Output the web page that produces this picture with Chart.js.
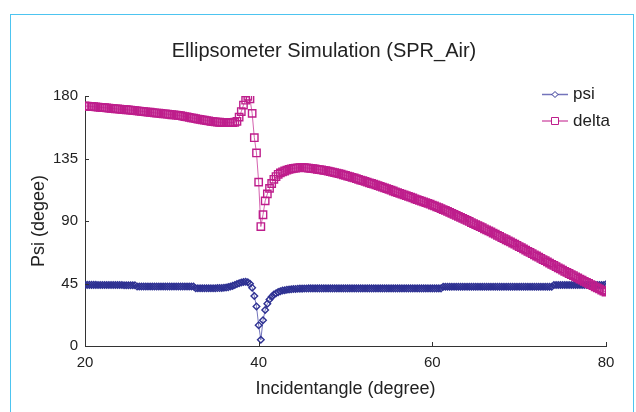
<!DOCTYPE html>
<html>
<head>
<meta charset="utf-8">
<script src="https://cdn.jsdelivr.net/npm/chart.js@4/dist/chart.umd.min.js"></script>
<style>
  html, body { margin: 0; padding: 0; background: #fff; }
  #wrap { position: relative; width: 636px; height: 412px; overflow: hidden; }
  #frame { position: absolute; left: 10px; top: 14px; width: 622px; height: 420px;
           border: 1.5px solid #4dc4f0; border-bottom: none; }
  #canvas { position: absolute; left: 0; top: 0; }
</style>
</head>
<body>
<div id="wrap">
  <div id="frame"></div>
  <canvas id="canvas" width="636" height="412"></canvas>
</div>
<script>
// incident angle, one row per degree
var angle = [
	20, 20.25, 20.5, 20.75, 21, 21.25, 21.5, 21.75, 22, 22.25, 22.5, 22.75,
	23, 23.25, 23.5, 23.75, 24, 24.25, 24.5, 24.75, 25, 25.25, 25.5, 25.75,
	26, 26.25, 26.5, 26.75, 27, 27.25, 27.5, 27.75, 28, 28.25, 28.5, 28.75,
	29, 29.25, 29.5, 29.75, 30, 30.25, 30.5, 30.75, 31, 31.25, 31.5, 31.75,
	32, 32.25, 32.5, 32.75, 33, 33.25, 33.5, 33.75, 34, 34.25, 34.5, 34.75,
	35, 35.25, 35.5, 35.75, 36, 36.25, 36.5, 36.75, 37, 37.25, 37.5, 37.75,
	38, 38.25, 38.5, 38.75, 39, 39.25, 39.5, 39.75, 40, 40.25, 40.5, 40.75,
	41, 41.25, 41.5, 41.75, 42, 42.25, 42.5, 42.75, 43, 43.25, 43.5, 43.75,
	44, 44.25, 44.5, 44.75, 45, 45.25, 45.5, 45.75, 46, 46.25, 46.5, 46.75,
	47, 47.25, 47.5, 47.75, 48, 48.25, 48.5, 48.75, 49, 49.25, 49.5, 49.75,
	50, 50.25, 50.5, 50.75, 51, 51.25, 51.5, 51.75, 52, 52.25, 52.5, 52.75,
	53, 53.25, 53.5, 53.75, 54, 54.25, 54.5, 54.75, 55, 55.25, 55.5, 55.75,
	56, 56.25, 56.5, 56.75, 57, 57.25, 57.5, 57.75, 58, 58.25, 58.5, 58.75,
	59, 59.25, 59.5, 59.75, 60, 60.25, 60.5, 60.75, 61, 61.25, 61.5, 61.75,
	62, 62.25, 62.5, 62.75, 63, 63.25, 63.5, 63.75, 64, 64.25, 64.5, 64.75,
	65, 65.25, 65.5, 65.75, 66, 66.25, 66.5, 66.75, 67, 67.25, 67.5, 67.75,
	68, 68.25, 68.5, 68.75, 69, 69.25, 69.5, 69.75, 70, 70.25, 70.5, 70.75,
	71, 71.25, 71.5, 71.75, 72, 72.25, 72.5, 72.75, 73, 73.25, 73.5, 73.75,
	74, 74.25, 74.5, 74.75, 75, 75.25, 75.5, 75.75, 76, 76.25, 76.5, 76.75,
	77, 77.25, 77.5, 77.75, 78, 78.25, 78.5, 78.75, 79, 79.25, 79.5, 79.75,
	80 ];

var psi = [
	44.0, 44.0, 44.0, 44.0, 44.0, 44.0, 43.9, 43.9, 43.9, 43.9, 43.9, 43.9,
	43.9, 43.9, 43.9, 43.9, 43.9, 43.9, 43.8, 43.8, 43.8, 43.8, 43.8, 43.8,
	42.8, 42.8, 42.8, 42.8, 42.8, 42.8, 42.8, 42.8, 42.8, 42.8, 42.8, 42.8,
	42.8, 42.8, 42.8, 42.8, 42.8, 42.8, 42.8, 42.8, 42.8, 42.8, 42.8, 42.8,
	42.8, 42.8, 42.8, 41.6, 41.6, 41.6, 41.6, 41.6, 41.6, 41.6, 41.6, 41.6,
	41.6, 41.7, 41.7, 41.8, 41.9, 42.1, 42.4, 42.8, 43.3, 43.9, 44.6, 45.2,
	45.7, 46.1, 46.2, 45.9, 44.8, 42.0, 36.0, 28.5, 15.0, 4.5, 18.5, 25.9,
	30.5, 33.5, 35.5, 37.0, 38.0, 38.8, 39.4, 39.9, 40.2, 40.5, 40.7, 40.9,
	41.0, 41.1, 41.2, 41.3, 41.3, 41.4, 41.4, 41.5, 41.5, 41.5, 41.5, 41.5,
	41.5, 41.5, 41.5, 41.5, 41.5, 41.5, 41.5, 41.5, 41.5, 41.5, 41.5, 41.5,
	41.5, 41.5, 41.5, 41.5, 41.5, 41.5, 41.5, 41.5, 41.5, 41.5, 41.5, 41.5,
	41.5, 41.5, 41.5, 41.5, 41.5, 41.5, 41.5, 41.5, 41.5, 41.5, 41.5, 41.5,
	41.5, 41.5, 41.5, 41.5, 41.5, 41.5, 41.5, 41.5, 41.5, 41.5, 41.5, 41.5,
	41.5, 41.5, 41.5, 41.5, 41.5, 41.5, 41.5, 41.5, 41.5, 42.7, 42.7, 42.7,
	42.7, 42.7, 42.7, 42.7, 42.7, 42.7, 42.7, 42.7, 42.7, 42.7, 42.7, 42.7,
	42.7, 42.7, 42.7, 42.7, 42.7, 42.7, 42.7, 42.7, 42.7, 42.7, 42.7, 42.7,
	42.7, 42.7, 42.7, 42.7, 42.7, 42.7, 42.7, 42.7, 42.7, 42.7, 42.7, 42.7,
	42.7, 42.7, 42.7, 42.7, 42.7, 42.7, 42.7, 42.7, 42.7, 42.7, 42.7, 42.7,
	43.9, 43.9, 43.9, 43.9, 43.9, 43.9, 43.9, 43.9, 43.9, 43.9, 43.9, 43.9,
	43.9, 43.9, 43.9, 43.9, 43.9, 43.9, 43.9, 43.9, 43.9, 43.9, 43.9, 43.9,
	44.5 ];

var delta = [
	172.8, 172.7, 172.6, 172.45, 172.3, 172.15, 172.0, 171.85, 171.7, 171.55, 171.4, 171.25,
	171.1, 170.95, 170.8, 170.65, 170.5, 170.35, 170.2, 170.1, 170.0, 169.85, 169.7, 169.5,
	169.3, 169.15, 169.0, 168.8, 168.6, 168.45, 168.3, 168.1, 167.9, 167.75, 167.6, 167.4,
	167.2, 167.05, 166.9, 166.7, 166.5, 166.35, 166.2, 166.0, 165.8, 165.5, 165.2, 164.9,
	164.6, 164.3, 164.0, 163.7, 163.4, 163.1, 162.8, 162.55, 162.3, 162.05, 161.8, 161.6,
	161.4, 161.25, 161.1, 161.0, 160.9, 160.85, 160.8, 160.85, 160.9, 161.1, 161.8, 164.8,
	168.8, 173.5, 177.0, 179.8, 178.0, 167.5, 150.0, 139.0, 118.0, 86.0, 94.5, 104.5,
	109.5, 113.5, 117.0, 120.0, 122.0, 123.6, 124.6, 125.4, 126.0, 126.6, 127.1, 127.5,
	127.9, 128.1, 128.3, 128.4, 128.4, 128.35, 128.2, 128.05, 127.9, 127.7, 127.5, 127.25,
	127.0, 126.75, 126.5, 126.2, 125.9, 125.55, 125.2, 124.85, 124.5, 124.1, 123.7, 123.25,
	122.8, 122.35, 121.9, 121.45, 121.0, 120.5, 120.0, 119.5, 119.0, 118.5, 118.0, 117.5,
	117.0, 116.5, 116.0, 115.45, 114.9, 114.35, 113.8, 113.25, 112.7, 112.15, 111.6, 111.05,
	110.5, 109.95, 109.4, 108.85, 108.3, 107.75, 107.2, 106.6, 106.0, 105.45, 104.9, 104.35,
	103.8, 103.25, 102.7, 102.1, 101.5, 100.85, 100.2, 99.55, 98.9, 98.25, 97.6, 96.9,
	96.2, 95.5, 94.8, 94.1, 93.4, 92.65, 91.9, 91.15, 90.4, 89.65, 88.9, 88.15,
	87.4, 86.65, 85.9, 85.15, 84.4, 83.65, 82.9, 82.1, 81.3, 80.5, 79.7, 78.9,
	78.1, 77.3, 76.5, 75.7, 74.9, 74.1, 73.3, 72.45, 71.6, 70.75, 69.9, 69.05,
	68.2, 67.35, 66.5, 65.65, 64.8, 63.95, 63.1, 62.25, 61.4, 60.55, 59.7, 58.85,
	58.0, 57.15, 56.3, 55.45, 54.6, 53.8, 53.0, 52.2, 51.4, 50.6, 49.8, 49.0,
	48.2, 47.4, 46.6, 45.8, 45.0, 44.2, 43.4, 42.6, 41.8, 41.05, 40.3, 39.55,
	38.8 ];

var xTicks = [20, 40, 60, 80];
var yTicks = [0, 45, 90, 135, 180];

var psiColor = 'rgb(46,49,146)';
var psiLine = 'rgba(90,92,175,0.85)';
var deltaColor = 'rgb(190,30,140)';
var deltaLine = 'rgba(205,70,160,0.85)';

function pairs(ys) {
	return angle.map(function(a, i) { return { x : a, y : ys[i] }; });
}

// inward tick marks and the in-plot legend
var extras = {
	id : 'extras',
	afterDraw : function(chart) {
		var ctx = chart.ctx, area = chart.chartArea;
		var xs = chart.scales.x, ys = chart.scales.y;
		ctx.save();
		ctx.strokeStyle = '#333';
		ctx.lineWidth = 1;
		ctx.beginPath();
		yTicks.forEach(function(v) {
			var py = Math.round(ys.getPixelForValue(v)) + 0.5;
			ctx.moveTo(area.left, py);
			ctx.lineTo(area.left + 4, py);
		});
		xTicks.forEach(function(v) {
			var px = Math.round(xs.getPixelForValue(v)) + 0.5;
			ctx.moveTo(px, area.bottom);
			ctx.lineTo(px, area.bottom - 4);
		});
		ctx.stroke();

		var items = [
			{ text : 'psi', y : 94.5, line : psiLine, color : psiColor, style : 'diamond' },
			{ text : 'delta', y : 121, line : deltaLine, color : deltaColor, style : 'square' } ];
		ctx.font = '17px "Liberation Sans", Arial, sans-serif';
		ctx.textBaseline = 'middle';
		items.forEach(function(it) {
			ctx.strokeStyle = it.line;
			ctx.lineWidth = 1.5;
			ctx.beginPath();
			ctx.moveTo(542, it.y);
			ctx.lineTo(568, it.y);
			ctx.stroke();
			ctx.strokeStyle = it.color;
			ctx.fillStyle = '#fff';
			ctx.lineWidth = 1;
			ctx.beginPath();
			if (it.style === 'diamond') {
				ctx.moveTo(555 - 3, it.y);
				ctx.lineTo(555, it.y - 3);
				ctx.lineTo(555 + 3, it.y);
				ctx.lineTo(555, it.y + 3);
				ctx.closePath();
			} else {
				ctx.rect(551.5, it.y - 3.5, 7, 7);
			}
			ctx.fill();
			ctx.stroke();
			ctx.fillStyle = '#222';
			ctx.fillText(it.text, 573, it.y);
		});
		ctx.restore();
	}
};

window.onload = function() {
	Chart.defaults.font.family = '"Liberation Sans", Arial, sans-serif';
	Chart.defaults.color = '#333';

	var ctx = document.getElementById('canvas').getContext('2d');
	window.myChart = new Chart(ctx, {
		type : 'line',
		data : {
			datasets : [ {
				label : 'psi',
				data : pairs(psi),
				borderColor : psiLine,
				borderWidth : 1,
				pointStyle : 'rectRot',
				pointRadius : 3.3,
				pointBorderWidth : 1.4,
				pointBorderColor : psiColor,
				pointBackgroundColor : 'rgba(255,255,255,0)',
				order : 2
			}, {
				label : 'delta',
				data : pairs(delta),
				borderColor : deltaLine,
				borderWidth : 1,
				pointStyle : 'rect',
				pointRadius : 5.2,
				pointBorderWidth : 1.4,
				pointBorderColor : deltaColor,
				pointBackgroundColor : 'rgba(255,255,255,0)',
				order : 1
			} ]
		},
		options : {
			responsive : false,
			animation : false,
			layout : { padding : { left : 42, right : 30, top : 0, bottom : 0 } },
			plugins : {
				legend : { display : false },
				tooltip : { enabled : false },
				title : {
					display : true,
					text : 'Ellipsometer Simulation (SPR_Air)',
					color : '#222',
					font : { size : 20, weight : 'normal' },
					padding : { top : 39, bottom : 33 }
				}
			},
			scales : {
				x : {
					type : 'linear',
					min : 20,
					max : 80,
					afterFit : function(s) { s.height = 66; },
					afterBuildTicks : function(s) {
						s.ticks = xTicks.map(function(v) { return { value : v }; });
					},
					grid : { display : false, drawTicks : false },
					border : { display : true, color : '#333', width : 1 },
					ticks : { font : { size : 15 }, color : '#222', padding : 8, maxRotation : 0 },
					title : {
						display : true,
						text : 'Incidentangle (degree)',
						color : '#222',
						font : { size : 18 },
						padding : { top : 0, bottom : 12 }
					}
				},
				y : {
					min : 0,
					max : 180,
					afterFit : function(s) { s.width = 43; },
					afterBuildTicks : function(s) {
						s.ticks = yTicks.map(function(v) { return { value : v }; });
					},
					grid : { display : false, drawTicks : false },
					border : { display : true, color : '#333', width : 1 },
					ticks : { font : { size : 15 }, color : '#222', padding : 7 },
					title : {
						display : true,
						text : 'Psi (degee)',
						color : '#222',
						font : { size : 18 },
						padding : { top : -14, bottom : 0 }
					}
				}
			}
		},
		plugins : [ extras ]
	});
};
</script>
</body>
</html>
